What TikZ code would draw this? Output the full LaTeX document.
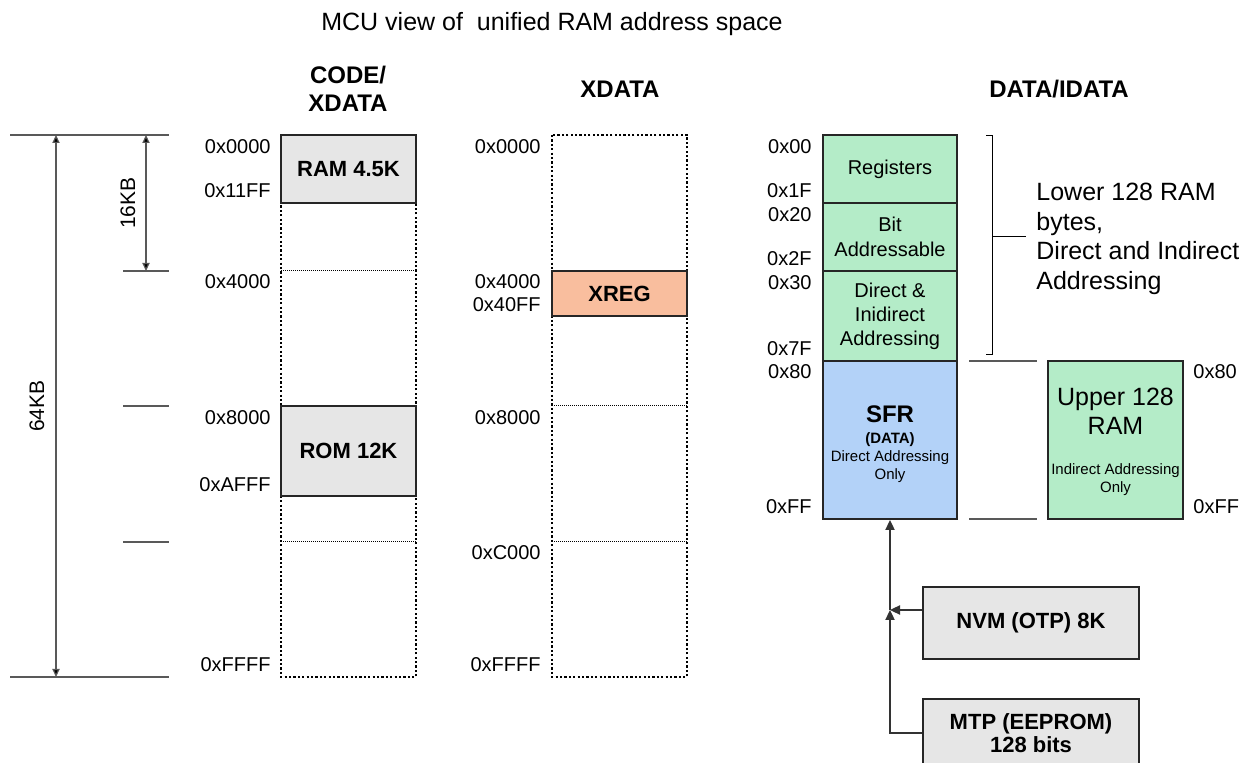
\documentclass[tikz,border=0pt]{standalone}
\usepackage{fontspec}
\setmainfont{Liberation Sans}
\usetikzlibrary{arrows.meta}
\definecolor{ramgray}{HTML}{E6E6E6}
\definecolor{lowgreen}{HTML}{B4ECC8}
\definecolor{sfrblue}{HTML}{B3D2F8}
\definecolor{xregorange}{HTML}{F9BE9E}

\begin{document}
\begin{tikzpicture}[x=0.5pt,y=-0.5pt,
    titletext/.style={inner sep=0pt, font=\fontsize{12.5}{15}\selectfont},
    heading/.style={inner sep=0pt, align=center, font=\fontsize{12}{14}\selectfont\bfseries},
    addr/.style={inner sep=0pt, font=\fontsize{10}{12}\selectfont},
    dimtext/.style={inner sep=0pt, font=\fontsize{10.5}{12}\selectfont},
    dimline/.style={draw=black!65, line width=0.6pt},
    dimarrow/.style={draw=black!65, line width=0.6pt, {Triangle[length=4pt,width=3.6pt,fill=black]}-{Triangle[length=4pt,width=3.6pt,fill=black]}},
    colbox/.style={line width=1.2pt, dash pattern=on 1.1pt off 1.1pt},
    splitline/.style={line width=0.5pt, dash pattern=on 0.5pt off 0.5pt},
    memblock/.style={draw=black!85, line width=1pt, inner sep=0pt, align=center, font=\fontsize{11}{13}\selectfont\bfseries},
    ramblock/.style={draw=black!85, line width=1pt, inner sep=0pt, align=center, minimum width=67pt},
    conn/.style={draw=black!80, line width=0.8pt, -{Triangle[length=5pt,width=4.6pt]}}]
\useasboundingbox (0,0) rectangle (1247,763);

% title and headings
\node[titletext] (title) at (552,24) {MCU view of\ \ unified RAM address space};
\node[heading] (hcode) at (348,89) {CODE/\\XDATA};
\node[heading] (hxdata) at (620,89) {XDATA};
\node[heading] (hdata) at (1059,89) {DATA/IDATA};

% size markers
\draw[dimline] (10,135) -- (169,135);
\draw[dimline] (10,677) -- (169,677);
\draw[dimline] (123,271) -- (169,271);
\draw[dimline] (123,406) -- (169,406);
\draw[dimline] (123,542) -- (169,542);
\coordinate (top64) at (56,135);
\coordinate (bot64) at (56,677);
\coordinate (top16) at (146,135);
\coordinate (bot16) at (146,271);
\draw[dimarrow] (top64) -- (bot64);
\draw[dimarrow] (top16) -- (bot16);
\node[dimtext, rotate=90] (kb64) at (37,406) {64KB};
\node[dimtext, rotate=90] (kb16) at (128,203) {16KB};

% CODE/XDATA
\draw[colbox] (281,135) rectangle (416,677);
\draw[splitline] (281,271) -- (416,271);
\draw[splitline] (281,542) -- (416,542);
\node[memblock, fill=ramgray, minimum width=67.5pt, minimum height=34pt] (ram) at (348.5,169) {RAM 4.5K};
\node[memblock, fill=ramgray, minimum width=67.5pt, minimum height=45pt] (rom) at (348.5,451) {ROM 12K};
\node[addr, anchor=east] (c0000) at (271,147) {0x0000};
\node[addr, anchor=east] (c11ff) at (271,191) {0x11FF};
\node[addr, anchor=east] (c4000) at (271,282) {0x4000};
\node[addr, anchor=east] (c8000) at (271,418) {0x8000};
\node[addr, anchor=east] (cafff) at (271,485) {0xAFFF};
\node[addr, anchor=east] (cffff) at (271,665) {0xFFFF};

% XDATA
\draw[colbox] (552,135) rectangle (687,677);
\draw[splitline] (552,406) -- (687,406);
\draw[splitline] (552,542) -- (687,542);
\node[memblock, fill=xregorange, minimum width=67.5pt, minimum height=22.5pt] (xreg) at (619.5,293.5) {XREG};
\node[addr, anchor=east] (x0000) at (541,147) {0x0000};
\node[addr, anchor=east] (x4000) at (541,282) {0x4000};
\node[addr, anchor=east] (x40ff) at (541,305) {0x40FF};
\node[addr, anchor=east] (x8000) at (541,418) {0x8000};
\node[addr, anchor=east] (xc000) at (541,553) {0xC000};
\node[addr, anchor=east] (xffff) at (541,665) {0xFFFF};

% DATA/IDATA
\node[ramblock, fill=lowgreen, minimum height=34pt, font=\fontsize{10}{12.5}\selectfont] (regs) at (890,169) {Registers};
\node[ramblock, fill=lowgreen, minimum height=34pt, font=\fontsize{10}{12.5}\selectfont] (bitad) at (890,237) {Bit\\Addressable};
\node[ramblock, fill=lowgreen, minimum height=45pt, font=\fontsize{10}{12}\selectfont] (direct) at (890,316) {Direct \&\\Inidirect\\Addressing};
\node[ramblock, fill=sfrblue, minimum height=79pt] (sfr) at (890,440)
  {\parbox{66pt}{\vspace*{4pt}\centering\fontsize{12}{12}\selectfont\bfseries SFR\par
   \fontsize{7.5}{10.5}\selectfont (DATA)\par
   \mdseries\fontsize{7.5}{9}\selectfont Direct Addressing\par Only}};
\node[ramblock, fill=lowgreen, minimum width=67.5pt, minimum height=79pt] (upper) at (1115.5,440)
  {\parbox{66pt}{\vspace*{2pt}\centering\fontsize{12.5}{14.5}\selectfont Upper 128\par RAM\par
   \fontsize{7.5}{20}\selectfont Indirect Addressing\par
   \fontsize{7.5}{9}\selectfont Only}};
\node[addr, anchor=east] (d00) at (812,147) {0x00};
\node[addr, anchor=east] (d1f) at (812,191) {0x1F};
\node[addr, anchor=east] (d20) at (812,215) {0x20};
\node[addr, anchor=east] (d2f) at (812,259) {0x2F};
\node[addr, anchor=east] (d30) at (812,283) {0x30};
\node[addr, anchor=east] (d7f) at (812,349) {0x7F};
\node[addr, anchor=east] (d80) at (812,372) {0x80};
\node[addr, anchor=east] (dff) at (812,507) {0xFF};
\node[addr, anchor=west] (u80) at (1193,372) {0x80};
\node[addr, anchor=west] (uff) at (1193,507) {0xFF};
\draw[dimline] (969,361) -- (1037,361);
\draw[dimline] (969,519) -- (1037,519);

% lower 128 bracket
\draw[line width=0.5pt] (986,136) -- (992,136) -- (992,355) -- (986,355);
\draw[line width=0.5pt] (992,237) -- (1026,237);
\node[inner sep=0pt, anchor=west, align=left, font=\fontsize{12.5}{14.8}\selectfont] (lower) at (1036,239)
  {Lower 128 RAM\\bytes,\\Direct and Indirect\\Addressing};

% memories feeding SFR
\node[memblock, fill=ramgray, minimum width=108pt, minimum height=36pt] (nvm) at (1031,623) {NVM (OTP) 8K};
\node[memblock, fill=ramgray, minimum width=108pt, minimum height=34pt, font=\fontsize{11}{11.5}\selectfont\bfseries] (mtp) at (1031,733) {MTP (EEPROM)\\128 bits};
\coordinate (join) at (890,610);
\draw[conn] (nvm.west |- join) -- (join);
\draw[conn] (mtp.west) -| (join);
\draw[conn] (join) -- (sfr.south);
\end{tikzpicture}
\end{document}
